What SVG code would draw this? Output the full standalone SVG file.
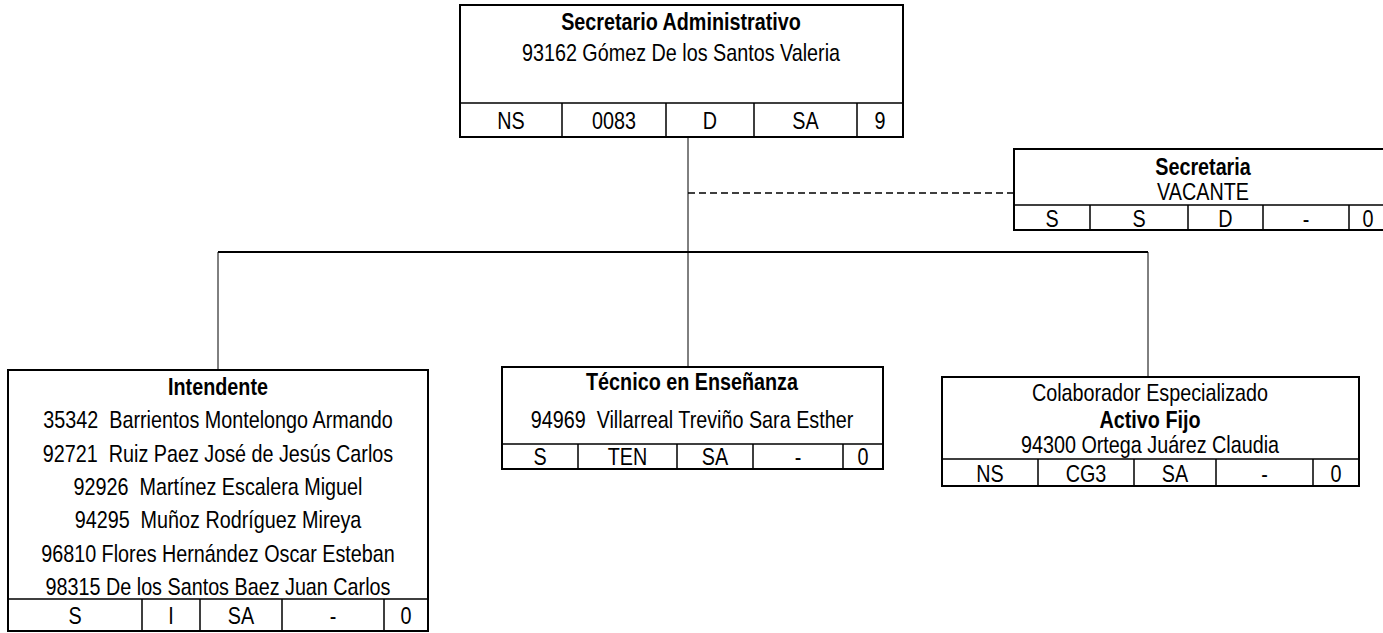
<svg xmlns="http://www.w3.org/2000/svg" width="1383" height="633" viewBox="0 0 1383 633">
<style>
text{font-family:"Liberation Sans",Arial,sans-serif;font-size:24px;fill:#000;text-anchor:middle;white-space:pre}
.b{font-weight:bold}
.box{fill:#fff;stroke:#000;stroke-width:2}
.div{stroke:#000;stroke-width:1.5;fill:none}
.c{stroke:#000;stroke-width:1;fill:none}
.h{stroke:#000;stroke-width:2;fill:none}
.d{stroke:#000;stroke-width:1.5;fill:none;stroke-dasharray:7 4}
</style>
<g id="connectors">
<line class="c" x1="688" y1="137" x2="688" y2="367"/>
<line class="h" x1="218" y1="252" x2="1148" y2="252"/>
<line class="c" x1="218" y1="252" x2="218" y2="370"/>
<line class="c" x1="1148" y1="252" x2="1148" y2="377"/>
<line class="d" x1="688" y1="193" x2="1014" y2="193"/>
</g>
<g id="secretario">
<rect class="box" x="460" y="5" width="443" height="132"/>
<path class="div" d="M460 103H903M562 103V137M666 103V137M754 103V137M857 103V137"/>
<text class="b" transform="translate(681 30) scale(.824 1)">Secretario Administrativo</text>
<text transform="translate(681 61) scale(.824 1)">93162 Gómez De los Santos Valeria</text>
<text transform="translate(511 129) scale(.824 1)">NS</text>
<text transform="translate(614 129) scale(.824 1)">0083</text>
<text transform="translate(710 129) scale(.824 1)">D</text>
<text transform="translate(805.5 129) scale(.824 1)">SA</text>
<text transform="translate(880 129) scale(.824 1)">9</text>
</g>
<g id="secretaria">
<rect class="box" x="1014" y="149" width="378" height="81"/>
<path class="div" d="M1014 205H1392M1090 205V230M1188 205V230M1263 205V230M1349 205V230"/>
<text class="b" transform="translate(1203 175) scale(.824 1)">Secretaria</text>
<text transform="translate(1203 200) scale(.824 1)">VACANTE</text>
<text transform="translate(1052 227) scale(.824 1)">S</text>
<text transform="translate(1139 227) scale(.824 1)">S</text>
<text transform="translate(1225.5 227) scale(.824 1)">D</text>
<text transform="translate(1306 227) scale(.824 1)">-</text>
<text transform="translate(1368 227) scale(.824 1)">0</text>
</g>
<g id="intendente">
<rect class="box" x="8" y="370" width="420" height="261"/>
<path class="div" d="M8 599H428M142 599V631M200 599V631M282 599V631M384 599V631"/>
<text class="b" transform="translate(218 395) scale(.824 1)">Intendente</text>
<text transform="translate(218 428) scale(.824 1)">35342  Barrientos Montelongo Armando</text>
<text transform="translate(218 462) scale(.824 1)">92721  Ruiz Paez José de Jesús Carlos</text>
<text transform="translate(218 495) scale(.824 1)">92926  Martínez Escalera Miguel</text>
<text transform="translate(218 528) scale(.824 1)">94295  Muñoz Rodríguez Mireya</text>
<text transform="translate(218 562) scale(.824 1)">96810 Flores Hernández Oscar Esteban</text>
<text transform="translate(218 595) scale(.824 1)">98315 De los Santos Baez Juan Carlos</text>
<text transform="translate(75 624) scale(.824 1)">S</text>
<text transform="translate(171 624) scale(.824 1)">I</text>
<text transform="translate(241 624) scale(.824 1)">SA</text>
<text transform="translate(333 624) scale(.824 1)">-</text>
<text transform="translate(406 624) scale(.824 1)">0</text>
</g>
<g id="tecnico">
<rect class="box" x="502" y="367" width="381" height="102"/>
<path class="div" d="M502 444H883M578 444V469M677 444V469M753 444V469M843 444V469"/>
<text class="b" transform="translate(692 390) scale(.824 1)">Técnico en Enseñanza</text>
<text transform="translate(692 428) scale(.824 1)">94969  Villarreal Treviño Sara Esther</text>
<text transform="translate(540 465) scale(.824 1)">S</text>
<text transform="translate(627.5 465) scale(.824 1)">TEN</text>
<text transform="translate(715 465) scale(.824 1)">SA</text>
<text transform="translate(798 465) scale(.824 1)">-</text>
<text transform="translate(863 465) scale(.824 1)">0</text>
</g>
<g id="colaborador">
<rect class="box" x="942" y="377" width="417" height="109"/>
<path class="div" d="M942 459H1359M1038 459V486M1134 459V486M1216 459V486M1313 459V486"/>
<text transform="translate(1150 401) scale(.824 1)">Colaborador Especializado</text>
<text class="b" transform="translate(1150 428) scale(.824 1)">Activo Fijo</text>
<text transform="translate(1150 453) scale(.824 1)">94300 Ortega Juárez Claudia</text>
<text transform="translate(990 482) scale(.824 1)">NS</text>
<text transform="translate(1086 482) scale(.824 1)">CG3</text>
<text transform="translate(1175 482) scale(.824 1)">SA</text>
<text transform="translate(1264.5 482) scale(.824 1)">-</text>
<text transform="translate(1336 482) scale(.824 1)">0</text>
</g>
</svg>
